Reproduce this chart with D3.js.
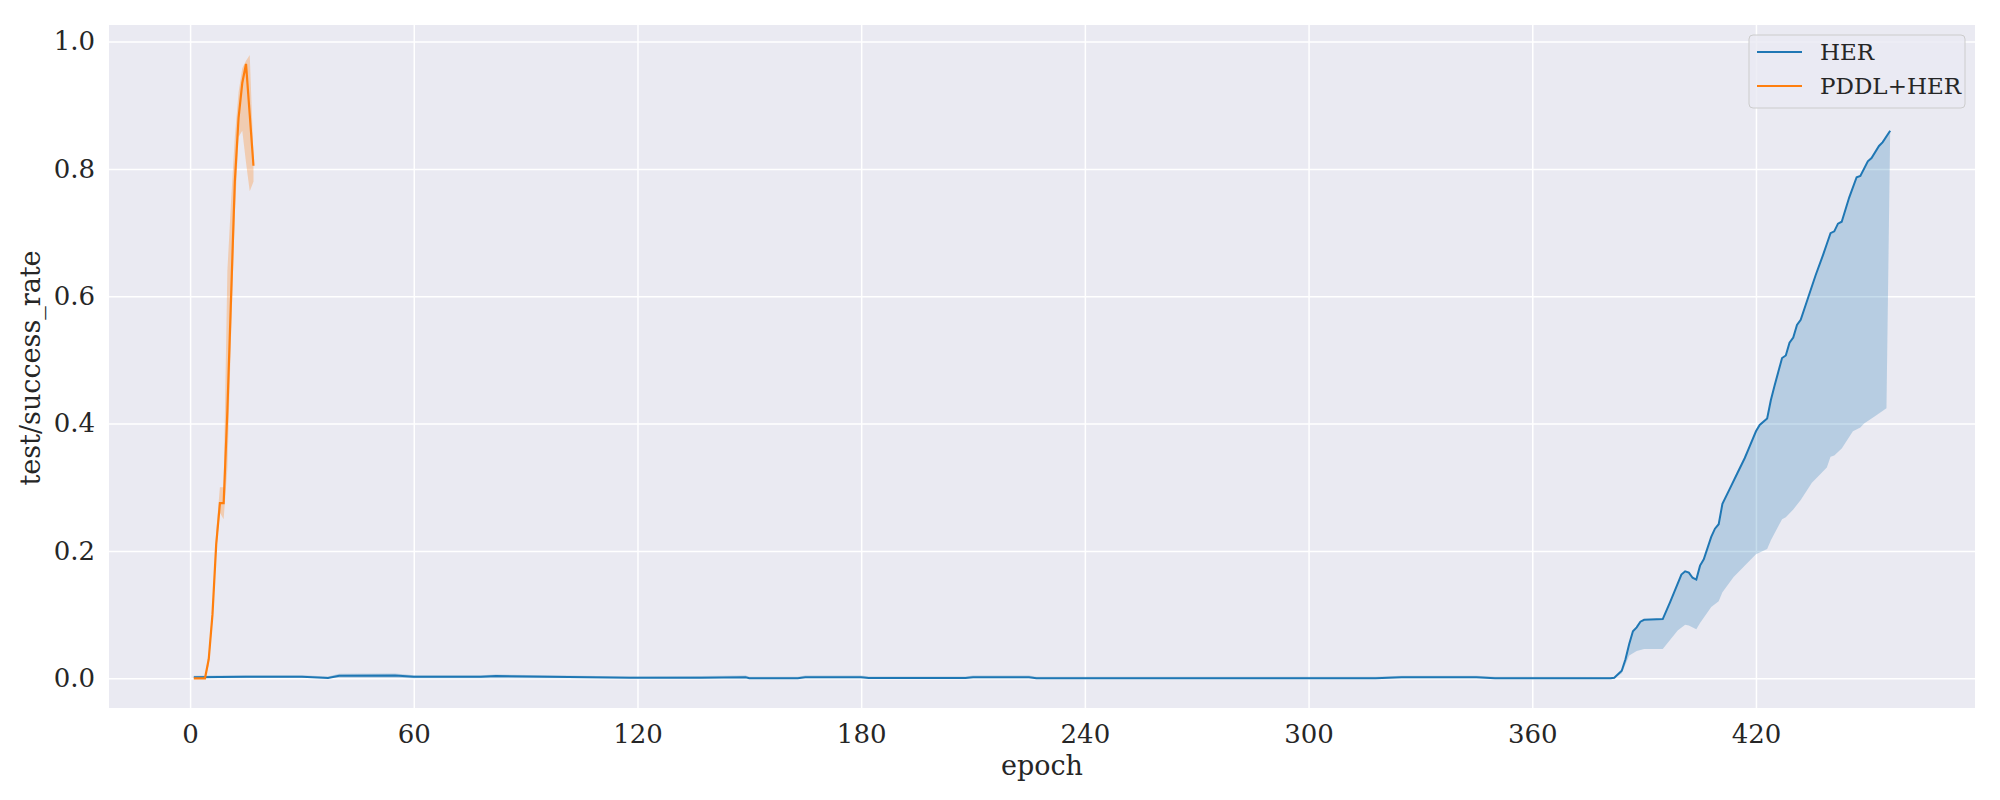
<!DOCTYPE html>
<html>
<head>
<meta charset="utf-8">
<script src="https://cdn.jsdelivr.net/npm/d3@7"></script>
<style>
  body { margin: 0; background: #fff; }
  text { font-family: "DejaVu Serif", serif; fill: #262626; }
</style>
</head>
<body>
<svg id="chart" width="2000" height="800"></svg>
<script>
// PDDL+HER, one vertex per epoch
const pddlEpoch = [1, 2, 3, 4, 5, 6, 7, 8, 9, 10, 11, 12, 13, 14, 15, 16, 17]
const pddlMean = [0, 0, 0, 0, 0.03, 0.10, 0.21, 0.275, 0.275, 0.42, 0.60, 0.78, 0.88, 0.935, 0.965, 0.885, 0.805]
const pddlLo = [0, 0, 0, 0, 0.02, 0.09, 0.20, 0.26, 0.25, 0.33, 0.54, 0.73, 0.85, 0.86, 0.81, 0.765, 0.78]
const pddlHi = [0, 0, 0, 0, 0.04, 0.11, 0.23, 0.30, 0.30, 0.64, 0.75, 0.85, 0.92, 0.958, 0.97, 0.979, 0.82]

// HER, vertices
const herEpoch = [1, 15, 30, 37, 40, 55, 60, 78, 82, 96, 118, 137, 149, 150, 163, 165, 180, 182, 208, 210, 225, 227, 318, 325, 345, 350, 381,
  382, 384, 385, 386, 387, 388, 389, 390, 395, 397, 400, 401, 402, 403, 404, 405, 406, 408, 409, 410, 411, 413, 415, 417, 418, 420,
  421, 423, 424, 425, 427, 428, 429, 430, 431, 432, 434, 436, 438, 439, 440, 441, 442, 443, 445, 447, 448, 450, 451, 453, 454, 456]
const herMean = [0.0015, 0.0025, 0.0025, 0.0005, 0.004, 0.0045, 0.0025, 0.0025, 0.0035, 0.0025, 0.0008, 0.001, 0.0018, 0.0003, 0.0003, 0.0018, 0.0018, 0.0005, 0.0005, 0.0018, 0.0018, 0.0003, 0.0003, 0.0015, 0.0015, 0.0003, 0,
  0.001, 0.012, 0.03, 0.054, 0.074, 0.08, 0.089, 0.092, 0.093, 0.12, 0.163, 0.168, 0.166, 0.158, 0.155, 0.177, 0.187, 0.222, 0.235, 0.242, 0.274, 0.298, 0.322, 0.346, 0.36, 0.388,
  0.398, 0.408, 0.437, 0.46, 0.503, 0.507, 0.527, 0.535, 0.555, 0.563, 0.598, 0.633, 0.665, 0.682, 0.699, 0.702, 0.714, 0.717, 0.755, 0.787, 0.789, 0.812, 0.817, 0.836, 0.842, 0.86]
// upper edge of the band on the flat stretch (above 381 it follows the mean)
const herHiEpoch = [1, 15, 30, 37, 40, 55, 60, 78, 82, 96, 118, 137, 149, 150, 163, 165, 180, 182, 208, 210, 225, 227, 318, 325, 345, 350, 381]
const herHi = [0.004, 0.005, 0.005, 0.003, 0.007, 0.0075, 0.005, 0.005, 0.006, 0.005, 0.003, 0.0035, 0.0045, 0.0025, 0.0025, 0.0045, 0.0045, 0.003, 0.003, 0.0045, 0.0045, 0.0025, 0.0025, 0.004, 0.004, 0.0025, 0.002]
const herLoEpoch = [1, 40, 55, 60, 381, 382, 384, 386, 388, 390, 395, 399, 401, 402, 404, 405, 408, 410, 411, 414, 420, 423, 424, 427, 428,
  430, 432, 435, 439, 440, 441, 443, 446, 448, 449, 450, 452, 455, 456]
const herLo = [0, 0.001, 0.001, 0, 0, 0, 0.008, 0.036, 0.043, 0.046, 0.046, 0.075, 0.084, 0.083, 0.077, 0.087, 0.112, 0.121, 0.135, 0.159, 0.195, 0.203, 0.217, 0.25, 0.253,
  0.265, 0.28, 0.307, 0.331, 0.348, 0.35, 0.361, 0.388, 0.394, 0.4, 0.404, 0.412, 0.424, 0.86]

const xTicks = [0, 60, 120, 180, 240, 300, 360, 420]
const yTicks = [0, 0.2, 0.4, 0.6, 0.8, 1.0]
const seriesNames = ["HER", "PDDL+HER"]
const colors = ["#1f77b4", "#ff7f0e"]

const svg = d3.select("#chart")
const plotL = 109, plotR = 1975, plotT = 25, plotB = 708

const x = d3.scaleLinear().domain([-21.75, 478.75]).range([plotL, plotR])
const y = d3.scaleLinear().domain([-0.0466, 1.026]).range([plotB, plotT])

svg.append("rect")
  .attr("x", plotL).attr("y", plotT)
  .attr("width", plotR - plotL).attr("height", plotB - plotT)
  .attr("fill", "#eaeaf2")

// grid + tick labels through d3 axes
const xAxis = svg.append("g")
  .attr("transform", `translate(0, ${plotB})`)
  .call(d3.axisBottom(x).tickValues(xTicks).tickSize(-(plotB - plotT)).tickPadding(17).tickFormat(d3.format("d")))
const yAxis = svg.append("g")
  .attr("transform", `translate(${plotL}, 0)`)
  .call(d3.axisLeft(y).tickValues(yTicks).tickSize(-(plotR - plotL)).tickPadding(14).tickFormat(d3.format(".1f")))
;[xAxis, yAxis].forEach((ax) => {
  ax.select(".domain").remove()
  ax.selectAll(".tick line").attr("stroke", "#fff").attr("stroke-width", 1.5)
  ax.selectAll(".tick text").attr("font-size", 26).attr("font-family", "DejaVu Serif").attr("fill", "#262626")
})

const line = d3.line().x(d => x(d[0])).y(d => y(d[1]))

// HER band: upper edge (flat stretch, then the mean), back along the lower edge
const herHiPts = herHiEpoch.map((e, i) => [e, herHi[i]])
  .concat(herEpoch.map((e, i) => [e, herMean[i]]).filter(d => d[0] > 381))
const herLoPts = herLoEpoch.map((e, i) => [e, herLo[i]]).reverse()
svg.append("path")
  .attr("d", line(herHiPts.concat(herLoPts)) + "Z")
  .attr("fill", colors[0]).attr("fill-opacity", 0.25)

// PDDL+HER band
const pddlBand = d3.area()
  .x((d, i) => x(pddlEpoch[i]))
  .y0((d, i) => y(pddlLo[i]))
  .y1((d, i) => y(pddlHi[i]))
svg.append("path")
  .attr("d", pddlBand(pddlEpoch))
  .attr("fill", colors[1]).attr("fill-opacity", 0.28)

svg.append("path")
  .attr("d", line(herEpoch.map((e, i) => [e, herMean[i]])))
  .attr("fill", "none").attr("stroke", colors[0]).attr("stroke-width", 2)
svg.append("path")
  .attr("d", line(pddlEpoch.map((e, i) => [e, pddlMean[i]])))
  .attr("fill", "none").attr("stroke", colors[1]).attr("stroke-width", 2.2)

// axis labels
svg.append("text")
  .attr("x", (plotL + plotR) / 2).attr("y", 775)
  .attr("text-anchor", "middle").attr("font-size", 27)
  .text("epoch")
svg.append("text")
  .attr("transform", "translate(40, 368) rotate(-90)")
  .attr("text-anchor", "middle").attr("font-size", 27)
  .text("test/success_rate")

// legend
const legend = svg.append("g").attr("transform", "translate(1749, 35)")
legend.append("rect")
  .attr("width", 216).attr("height", 73).attr("rx", 4)
  .attr("fill", "#eaeaf2").attr("fill-opacity", 0.8)
  .attr("stroke", "#cccccc").attr("stroke-width", 1)
seriesNames.forEach((name, i) => {
  const ly = 17 + i * 34
  legend.append("line")
    .attr("x1", 8).attr("x2", 53).attr("y1", ly).attr("y2", ly)
    .attr("stroke", colors[i]).attr("stroke-width", 2)
  legend.append("text")
    .attr("x", 71).attr("y", ly + 8)
    .attr("font-size", 23)
    .text(name)
})
</script>
</body>
</html>
